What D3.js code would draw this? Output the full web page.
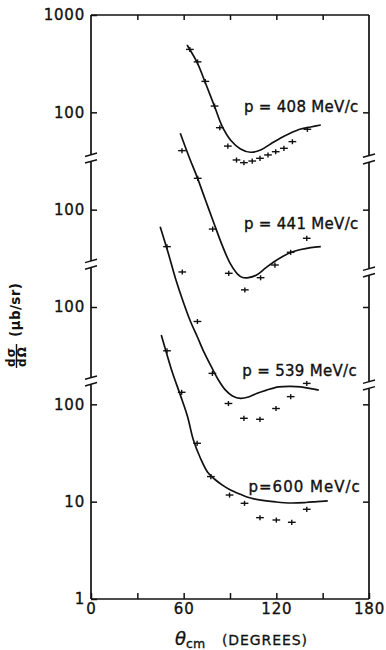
<!DOCTYPE html>
<html>
<head>
<meta charset="utf-8">
<script src="https://cdn.jsdelivr.net/npm/d3@7"></script>
<style>
  body { margin: 0; background: #fff; }
  svg text { font-family: "DejaVu Sans", sans-serif; fill: #111; }
</style>
</head>
<body>
<svg id="chart" width="386" height="650"></svg>
<script>
// c.m. angle (deg) and dsigma/dOmega (microbarn/sr), one set per beam momentum
var theta408 = [64, 69, 74, 80, 83.4, 88.6, 94.2, 99, 104.4, 109.4, 114.6, 119.6, 124.9, 130.4, 140.1];
var sigma408 = [443, 330, 208, 116, 69.5, 45, 32.4, 30.4, 31.6, 33.7, 36.5, 39.4, 42.7, 50, 67];
var fitTheta408 = [62.2, 68.9, 74.1, 79.9, 85.1, 90.3, 96.8, 103.3, 109.8, 116.3, 122.8, 129.3, 135.8, 142.3, 148.8];
var fitSigma408 = [492, 321, 200, 116, 70.7, 52, 42.1, 38.9, 41, 47.3, 54.5, 61.4, 67.5, 70.7, 74.1];

var theta441 = [58.9, 69.1, 78.8, 89.2, 99.6, 109.8, 119.1, 129.3, 139.7];
var sigma441 = [404, 210, 63.2, 22.2, 15, 20, 27, 36.5, 50.8];
var fitTheta441 = [57.8, 63, 68.9, 74.1, 79.3, 85.1, 90.3, 94.9, 98.1, 102, 107.2, 113.1, 118.3, 124.1, 129.3, 135.8, 142.3, 148.8];
var fitSigma441 = [609, 365, 212, 125.7, 74.7, 42.4, 27.7, 21.8, 20.1, 20, 21.3, 25.2, 29, 33, 36.3, 39, 40.8, 41.8];

var theta539 = [49.2, 59.1, 68.9, 78.6, 89, 99, 109.4, 119.8, 129.3, 139.7];
var sigma539 = [417, 229, 71, 20.8, 10.2, 7.19, 7.02, 9.06, 12, 16.4];
var fitTheta539 = [44.8, 50, 54.6, 59.8, 64.3, 68.9, 73.4, 78, 82.5, 87.1, 91.6, 96.8, 102, 107.2, 113.7, 121.5, 129.3, 135.8, 142.3, 147.5];
var fitSigma539 = [668, 359, 199, 112, 71.8, 49.2, 33.7, 24.2, 17.8, 14, 12.2, 11.5, 11.9, 12.9, 14, 15.1, 15.3, 15.1, 14.5, 14];

var theta600 = [49.2, 58.7, 68.7, 77.6, 89.7, 99.4, 109.4, 120, 130, 139.7];
var sigma600 = [355, 133, 39.8, 18.1, 11.7, 9.62, 6.85, 6.48, 6.14, 8.35];
var fitTheta600 = [45.5, 48.7, 52.6, 57.8, 62.4, 66.3, 70.8, 75.4, 79.9, 85.1, 90.3, 96.8, 103.3, 111.1, 119.6, 129.3, 139, 146.2, 153.3];
var fitSigma600 = [516, 345, 215, 125, 75.9, 43, 28.1, 20.2, 17.1, 14.8, 13.2, 11.9, 10.9, 10.3, 9.93, 9.69, 9.8, 10, 10.2];

var momentumLabels = ["p = 408 MeV/c", "p = 441 MeV/c", "p = 539 MeV/c", "p=600 MeV/c"];
// each curve is shifted up by this factor on the common log axis
var panelShift = [1000, 100, 10, 1];
var thetaErr = 2.5;   // half width of the horizontal bar, degrees
var relErr = 0.06;    // vertical bar, fraction of value

var yTickValues = [1, 10, 100, 1e3, 1e4, 1e5, 1e6];
var yTickLabels = ["1", "10", "100", "100", "100", "100", "1000"];
var xTickValues = [0, 30, 60, 90, 120, 150, 180];
var xTickLabels = ["0", "", "60", "", "120", "", "180"];
// axis breaks, in shifted axis units
var breaksLeft = [33900, 2750, 174];
var breaksRight = [33200, 2290, 158];

var panels = [
  {th: theta408, s: sigma408, ft: fitTheta408, fs: fitSigma408},
  {th: theta441, s: sigma441, ft: fitTheta441, fs: fitSigma441},
  {th: theta539, s: sigma539, ft: fitTheta539, fs: fitSigma539},
  {th: theta600, s: sigma600, ft: fitTheta600, fs: fitSigma600}
];
// where each momentum label starts (theta, value in its own panel)
var labelAt = [[99, 100], [99, 63], [98, 19.7], [102, 12.6]];

var plotL = 91, plotR = 369, plotT = 15, plotB = 599;
var svg = d3.select("#chart");

var x = d3.scaleLinear().domain([0, 180]).range([plotL, plotR]);
var y = d3.scaleLog().domain([1, 1e6]).range([plotB, plotT]);

// frame
var frame = svg.append("g").attr("stroke", "#111").attr("stroke-width", 1.7).attr("fill", "none");
frame.append("line").attr("x1", plotL).attr("x2", plotR).attr("y1", plotT).attr("y2", plotT);
frame.append("line").attr("x1", plotL).attr("x2", plotR).attr("y1", plotB).attr("y2", plotB);

function brokenAxis(xpos, breaks) {
  var gap = 3.3;
  var ys = breaks.map(function(b){ return y(b); }).sort(function(a, b){ return a - b; });
  var y0 = plotT;
  ys.forEach(function(yb) {
    frame.append("line").attr("x1", xpos).attr("x2", xpos).attr("y1", y0).attr("y2", yb - gap);
    [-gap, gap].forEach(function(d) {
      frame.append("line").attr("stroke-width", 1.5)
        .attr("x1", xpos - 6).attr("y1", yb + d + 1.7)
        .attr("x2", xpos + 6).attr("y2", yb + d - 1.7);
    });
    y0 = yb + gap;
  });
  frame.append("line").attr("x1", xpos).attr("x2", xpos).attr("y1", y0).attr("y2", plotB);
}
brokenAxis(plotL, breaksLeft);
brokenAxis(plotR, breaksRight);

// ticks
var yLeft = svg.append("g").attr("transform", "translate(" + plotL + ",0)")
  .call(d3.axisLeft(y).tickValues(yTickValues).tickSize(-6).tickSizeOuter(0).tickPadding(6)
    .tickFormat(function(d, i){ return yTickLabels[i]; }));
var yRight = svg.append("g").attr("transform", "translate(" + plotR + ",0)")
  .call(d3.axisRight(y).tickValues(yTickValues.slice(1, -1)).tickSize(-6).tickSizeOuter(0).tickFormat(""));
var xBottom = svg.append("g").attr("transform", "translate(0," + plotB + ")")
  .call(d3.axisBottom(x).tickValues(xTickValues).tickSize(-6).tickSizeOuter(0).tickPadding(4)
    .tickFormat(function(d, i){ return xTickLabels[i]; }));
var xTop = svg.append("g").attr("transform", "translate(0," + plotT + ")")
  .call(d3.axisTop(x).tickValues(xTickValues.slice(1, -1)).tickSize(-5).tickSizeOuter(0).tickFormat(""));

[yLeft, yRight, xBottom, xTop].forEach(function(g) {
  g.select(".domain").remove();
  g.selectAll(".tick line").attr("stroke", "#111").attr("stroke-width", 1.5);
  g.selectAll(".tick text").attr("font-size", 15).attr("letter-spacing", "0.8px")
    .attr("font-family", "DejaVu Sans, sans-serif").attr("fill", "#111")
    .attr("stroke", "#111").attr("stroke-width", 0.35);
});

// curves and data
var line = d3.line().curve(d3.curveCatmullRom.alpha(0.5));
panels.forEach(function(p, k) {
  var f = panelShift[k];
  var pts = p.ft.map(function(t, i){ return [x(t), y(p.fs[i] * f)]; });
  svg.append("path").attr("d", line(pts)).attr("fill", "none")
    .attr("stroke", "#111").attr("stroke-width", 1.7);

  var g = svg.append("g").attr("stroke", "#111").attr("stroke-width", 1.4);
  p.th.forEach(function(t, i) {
    var v = p.s[i] * f;
    g.append("line").attr("x1", x(t - thetaErr)).attr("x2", x(t + thetaErr))
      .attr("y1", y(v)).attr("y2", y(v));
    g.append("line").attr("x1", x(t)).attr("x2", x(t))
      .attr("y1", y(v * (1 - relErr))).attr("y2", y(v * (1 + relErr)));
  });

  svg.append("text").attr("x", x(labelAt[k][0])).attr("y", y(labelAt[k][1] * f))
    .attr("font-size", 15).attr("letter-spacing", k == 3 ? "1px" : "0.3px")
    .attr("stroke", "#111").attr("stroke-width", 0.35)
    .text(momentumLabels[k]);
});

// y title: dsigma/dOmega (microbarn/sr)
var yt = svg.append("g").attr("transform", "translate(16.5,325) rotate(-90)")
  .attr("font-weight", "bold");
yt.append("text").attr("x", -12).attr("y", 3.8).attr("font-size", 13.5)
  .attr("textLength", 54).attr("lengthAdjust", "spacing").text("(\u03bcb/sr)");
yt.append("text").attr("x", -42).attr("y", -1.8).attr("font-size", 12)
  .attr("letter-spacing", "1.2px").text("d\u03c3");
yt.append("line").attr("x1", -43).attr("x2", -19).attr("y1", 0).attr("y2", 0)
  .attr("stroke", "#111").attr("stroke-width", 1.4);
yt.append("text").attr("x", -42).attr("y", 9.5).attr("font-size", 12)
  .attr("letter-spacing", "1.2px").text("d\u03a9");

// x title
var xt = svg.append("text").attr("x", 175).attr("y", 645)
  .attr("stroke", "#111").attr("stroke-width", 0.35);
xt.append("tspan").attr("font-size", 18).attr("font-style", "italic").text("\u03b8");
xt.append("tspan").attr("font-size", 12.5).attr("dy", 3).text("cm");
svg.append("text").attr("x", 222).attr("y", 645).attr("font-size", 14)
  .attr("stroke", "#111").attr("stroke-width", 0.3)
  .attr("textLength", 85).attr("lengthAdjust", "spacing").text("(DEGREES)");
</script>
</body>
</html>
